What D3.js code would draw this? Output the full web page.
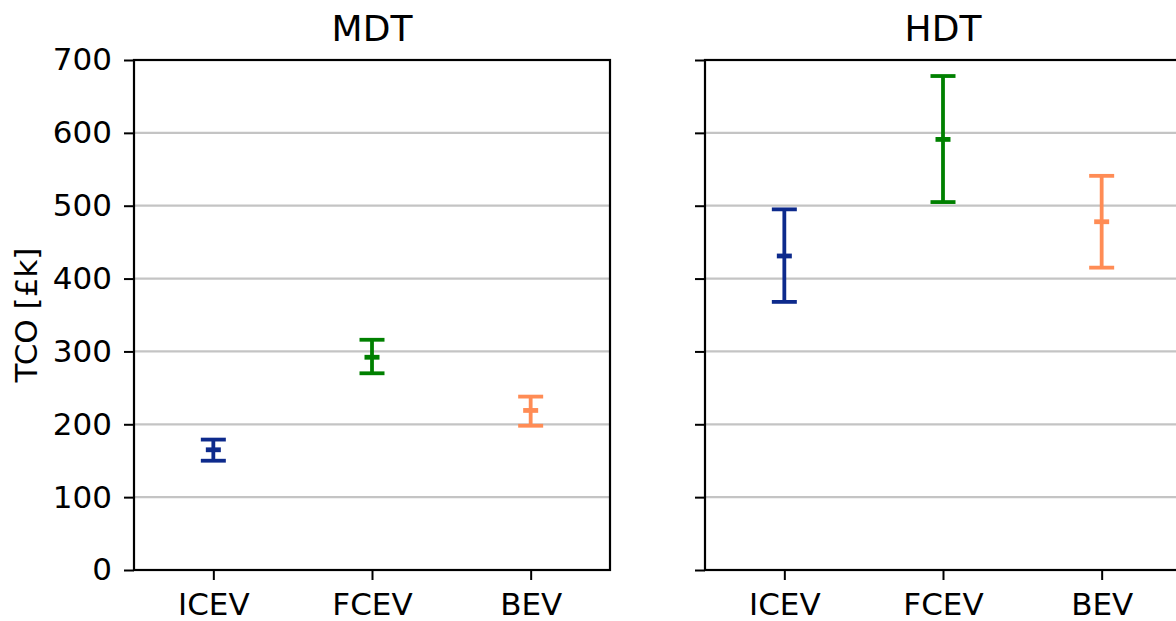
<!DOCTYPE html>
<html>
<head>
<meta charset="utf-8">
<script src="https://cdnjs.cloudflare.com/ajax/libs/d3/7.8.5/d3.min.js"></script>
<style>
  body { margin: 0; background: #fff; }
  svg { display: block; font-family: "DejaVu Sans", sans-serif; }
</style>
</head>
<body>
<div id="chart"></div>
<script>
// categories and panels
var vehicles = ['ICEV', 'FCEV', 'BEV'];
var panels = ['MDT', 'HDT'];
var colors = ['#0d2a8c', '#008000', '#ff8c55'];
var yTicks = [0, 100, 200, 300, 400, 500, 600, 700];

// TCO [£k] low / mid / high
var mdtLow  = [150, 270, 198];
var mdtMid  = [165, 292, 219];
var mdtHigh = [179, 316, 238];

var hdtLow  = [368, 505, 415];
var hdtMid  = [431, 591, 478];
var hdtHigh = [495, 678, 541];

var panelData = [
    { low: mdtLow, mid: mdtMid, high: mdtHigh },
    { low: hdtLow, mid: hdtMid, high: hdtHigh }
];

var W = 1176, H = 621;
var plotTop = 60, plotBottom = 570;
var panelW = 476;
var panelX = [134, 705];

var svg = d3.select('#chart').append('svg')
            .attr('width', W).attr('height', H);

var y = d3.scaleLinear().domain([0, 700]).range([plotBottom, plotTop]);

panels.forEach(function(name, p) {
    var x = d3.scalePoint().domain(vehicles).range([0, panelW]).padding(0.5);
    var g = svg.append('g').attr('transform', 'translate(' + panelX[p] + ',0)');

    // grid
    g.append('g').selectAll('line').data(yTicks.filter(function(t) { return t > 0 && t < 700; }))
     .enter().append('line')
     .attr('x1', 0).attr('x2', panelW)
     .attr('y1', function(d) { return y(d); }).attr('y2', function(d) { return y(d); })
     .attr('stroke', '#c4c4c4').attr('stroke-width', 2.2);

    // y axis
    var yAxis = d3.axisLeft(y).tickValues(yTicks).tickSizeInner(10).tickSizeOuter(0).tickPadding(12);
    if (p > 0) yAxis.tickFormat('');
    var ya = g.append('g').call(yAxis);
    ya.select('.domain').remove();
    ya.selectAll('line').attr('stroke', '#000').attr('stroke-width', 2);
    ya.selectAll('text').attr('font-size', 31).attr('fill', '#000')
      .attr('font-family', '"DejaVu Sans", sans-serif');

    // x axis
    var xAxis = d3.axisBottom(x).tickSizeInner(10).tickSizeOuter(0).tickPadding(13);
    var xa = g.append('g').attr('transform', 'translate(0,' + plotBottom + ')').call(xAxis);
    xa.select('.domain').remove();
    xa.selectAll('line').attr('stroke', '#000').attr('stroke-width', 2);
    xa.selectAll('text').attr('font-size', 31).attr('fill', '#000')
      .attr('font-family', '"DejaVu Sans", sans-serif');

    // frame
    g.append('rect').attr('x', 0).attr('y', plotTop)
     .attr('width', panelW).attr('height', plotBottom - plotTop)
     .attr('fill', 'none').attr('stroke', '#000').attr('stroke-width', 2.2);

    // error bars
    var d = panelData[p];
    var bars = g.append('g').selectAll('g').data(vehicles).enter().append('g')
                .attr('stroke', function(v, i) { return colors[i]; });
    bars.append('line')
        .attr('x1', function(v) { return x(v); }).attr('x2', function(v) { return x(v); })
        .attr('y1', function(v, i) { return y(d.low[i]); })
        .attr('y2', function(v, i) { return y(d.high[i]); })
        .attr('stroke-width', 3.8);
    [d.low, d.high].forEach(function(arr) {
        bars.append('line')
            .attr('x1', function(v) { return x(v) - 12.5; }).attr('x2', function(v) { return x(v) + 12.5; })
            .attr('y1', function(v, i) { return y(arr[i]); })
            .attr('y2', function(v, i) { return y(arr[i]); })
            .attr('stroke-width', 3.8);
    });
    bars.append('line')
        .attr('x1', function(v) { return x(v) - 7.5; }).attr('x2', function(v) { return x(v) + 7.5; })
        .attr('y1', function(v, i) { return y(d.mid[i]); })
        .attr('y2', function(v, i) { return y(d.mid[i]); })
        .attr('stroke-width', 4.8);

    // title
    g.append('text').attr('x', panelW / 2).attr('y', 41)
     .attr('text-anchor', 'middle').attr('font-size', 36).attr('fill', '#000')
     .text(name);
});

svg.append('text')
   .attr('transform', 'translate(37,' + ((plotTop + plotBottom) / 2) + ') rotate(-90)')
   .attr('text-anchor', 'middle').attr('font-size', 31).attr('fill', '#000')
   .text('TCO [£k]');
</script>
</body>
</html>
